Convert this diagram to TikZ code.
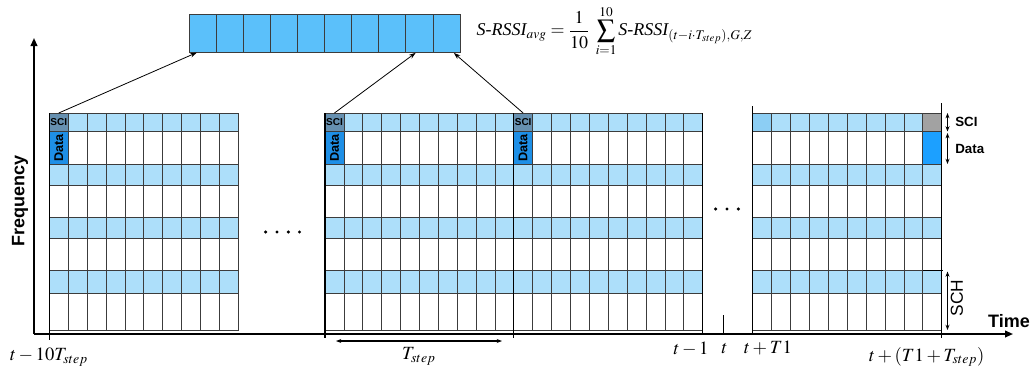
\documentclass[tikz,border=0pt]{standalone}
\usepackage{mathptmx}
\usepackage[no-math]{fontspec}
\setmainfont{Liberation Serif}
\setsansfont{Liberation Sans}
\usetikzlibrary{arrows.meta, positioning}
\definecolor{chlight}{HTML}{ADDFFA}
\definecolor{chfirst}{HTML}{8CCEF4}
\definecolor{avgblue}{HTML}{5BC0FA}
\definecolor{scigray}{HTML}{6690B0}
\definecolor{datablue}{HTML}{1E8FE6}
\definecolor{databright}{HTML}{1CA0FF}
\definecolor{hatchgray}{HTML}{A2A2A2}
\definecolor{gridline}{HTML}{3C3C3C}
\tikzset{
    cell/.style={draw=gridline, line width=0.5pt},
    scicell/.style={rectangle, draw=gridline, line width=0.5pt, fill=scigray, minimum width=14.2pt, minimum height=13.9pt, inner sep=0pt, outer sep=0pt, font=\sffamily\bfseries\fontsize{7.5}{8}\selectfont},
    datacell/.style={scicell, fill=datablue, minimum height=24.4pt, font=\sffamily\bfseries\fontsize{9.5}{10}\selectfont},
    avgcell/.style={rectangle, draw=gridline, line width=0.6pt, fill=avgblue, minimum width=20.3pt, minimum height=28.3pt, inner sep=0pt, outer sep=0pt},
    axis/.style={line width=1.3pt, -{Triangle[length=6pt, width=5pt]}},
    edge/.style={line width=0.9pt},
    arr/.style={-{Stealth[length=5pt, width=3.5pt]}, line width=0.6pt, shorten >=1pt},
    dim/.style={{Stealth[length=4pt, width=3pt]}-{Stealth[length=4pt, width=3pt]}, line width=0.8pt},
    axlab/.style={font=\sffamily\bfseries\fontsize{13.5}{15}\selectfont, inner sep=0pt},
    sidelab/.style={font=\sffamily\bfseries\fontsize{10}{11}\selectfont, inner sep=0pt, anchor=west},
    tlab/.style={font=\fontsize{14}{16}\selectfont, inner sep=0pt},
}
% one block: 10 subchannels, 8 rows
\newcommand{\slotgrid}[1]{%
  \foreach \ya/\yb/\f in {113/131.5/chlight, 131.5/164/white, 164/185/chlight, 185/217.5/white, 217.5/238/chlight, 238/270.5/white, 270.5/293/chlight, 293/330/white}
    \foreach \c in {0,...,9}
      \draw[cell, fill=\f] ({#1+\c*18.9},\ya) rectangle ({#1+\c*18.9+18.9},\yb);
}

\begin{document}
\begin{tikzpicture}[x=0.75pt, y=-0.75pt]
\useasboundingbox (0,0) rectangle (1033,376);

% ── Resource blocks ──
\slotgrid{49.3}
\slotgrid{325}
\slotgrid{513.7}
\slotgrid{752.7}

% ── Sensed SCI / Data ──
\node[scicell, anchor=north west] (sci1) at (49.3,113) {SCI};
\node[datacell, below=0pt of sci1] (data1) {\rotatebox{90}{Data}};
\node[scicell, anchor=north west] (sci2) at (325,113) {SCI};
\node[datacell, below=0pt of sci2] (data2) {\rotatebox{90}{Data}};
\node[scicell, anchor=north west] (sci3) at (513.7,113) {SCI};
\node[datacell, below=0pt of sci3] (data3) {\rotatebox{90}{Data}};

% ── Selection window ──
\draw[cell, fill=chfirst] (752.7,113) rectangle (771.6,131.5);
\draw[cell, fill=hatchgray] (922.8,113) rectangle (941.7,131.5);
\draw[cell, fill=databright] (922.8,131.5) rectangle (941.7,164);

% ── Block edges ──
\draw[edge] (49.3,113) -- (49.3,340);
\draw[edge] (325,113) -- (325,338);
\draw[edge] (513.7,113) -- (513.7,338);
\draw[edge] (702.7,113) -- (702.7,335);
\draw[edge] (752.7,106) -- (752.7,334);
\draw[edge] (941.7,103) -- (941.7,338);
\draw[edge] (922.8,270.5) -- (943,270.5);

% ── Axes ──
\coordinate (origin) at (34,334);
\coordinate (ftop) at (34,38);
\coordinate (tend) at (1013,334);
\draw[axis] (origin) -- (ftop);
\draw[axis] (origin) -- (tend);
\node[axlab, rotate=90] (freq) at (20,201) {Frequency};
\node[axlab] (time) at (1009,321) {Time};

% ── Averaged S-RSSI ──
\node[avgcell, anchor=north west] (avg1) at (189.3,14.3) {};
\foreach \i [count=\j from 2] in {1,...,9}
  \node[avgcell, right=0pt of avg\i] (avg\j) {};
\node[anchor=west, font=\fontsize{13.5}{17}\selectfont] (formula) at (472,31)
  {$\displaystyle \textit{S-RSSI}_{avg}=\frac{1}{10}\;\sum_{i=1}^{10}\textit{S-RSSI}_{(t-i\cdot T_{step}),G,Z}$};

\draw[arr] (sci1.north) -- ([xshift=-3.6pt]avg1.south);
\draw[arr] (sci2.north) -- ([xshift=-2pt]avg9.south);
\draw[arr] (sci3.north) -- ([xshift=4.8pt]avg10.south);

% ── Side marks ──
\coordinate (sciA) at (947.5,113);
\coordinate (sciB) at (947.5,131.5);
\coordinate (datA) at (947.5,133);
\coordinate (datB) at (947.5,164);
\coordinate (schA) at (947.5,271.5);
\coordinate (schB) at (947.5,330);
\draw[dim] (sciA) -- (sciB);
\draw[dim] (datA) -- (datB);
\draw[dim] (schA) -- (schB);
\node[sidelab] (scilab) at (955,122) {SCI};
\node[sidelab] (datalab) at (955,149) {Data};
\node[sidelab, anchor=center, rotate=90, font=\sffamily\fontsize{13}{14}\selectfont] (schlab) at (957,298) {SCH};

% ── Time marks ──
\node[tlab] (tm10) at (49,357) {$t-10T_{step}$};
\coordinate (tsA) at (336,341);
\coordinate (tsB) at (502,341);
\draw[dim] (tsA) -- (tsB);
\node[tlab] (tstep) at (419,356) {$T_{step}$};
\node[tlab] (tm1) at (691,349) {$t-1$};
\node[tlab] (tnow) at (724.5,349) {$t$};
\draw[edge] (723.5,315) -- (723.5,334);
\node[tlab] (tT1) at (768,348) {$t+T1$};
\node[tlab] (tT1s) at (926.7,357) {$t+(T1+T_{step})$};

% ── Gaps ──
\foreach \x in {265.7,277,288.3,299.5}
  \fill (\x,232) circle[radius=1.3pt];
\foreach \x in {715.7,727,738.3}
  \fill (\x,209) circle[radius=1.3pt];

\end{tikzpicture}
\end{document}
